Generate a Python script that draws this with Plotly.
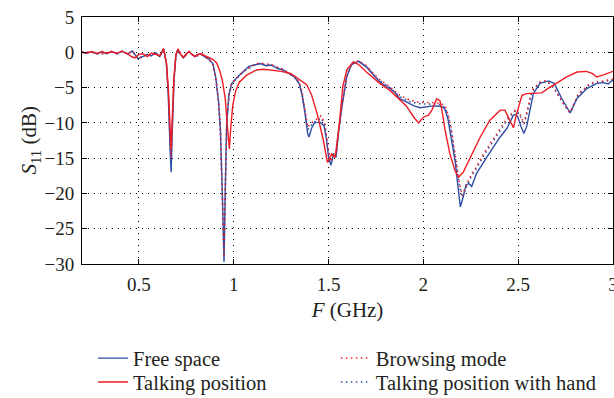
import plotly.graph_objects as go

# ---------------- data ----------------
free_f = [0.20, 0.225, 0.25, 0.28, 0.305, 0.33, 0.355, 0.385, 0.41, 0.44, 0.465, 0.495, 0.52, 0.545,
          0.565, 0.59, 0.61, 0.63, 0.645, 0.655, 0.665, 0.670, 0.675, 0.685, 0.695, 0.706, 0.72,
          0.735, 0.75, 0.765, 0.78, 0.795, 0.81, 0.83, 0.85, 0.87, 0.89, 0.905, 0.92, 0.93, 0.94,
          0.949, 0.955, 0.963, 0.975, 0.99, 1.02, 1.05, 1.08, 1.11, 1.14, 1.17, 1.20, 1.23, 1.26,
          1.29, 1.32, 1.345, 1.36, 1.375, 1.39, 1.397, 1.41, 1.425, 1.455, 1.476, 1.49, 1.50, 1.513,
          1.525, 1.54, 1.552, 1.57, 1.596, 1.62, 1.657, 1.70, 1.73, 1.763, 1.79, 1.824, 1.85, 1.877,
          1.90, 1.93, 1.95, 1.983, 2.02, 2.05, 2.088, 2.105, 2.115, 2.13, 2.14, 2.155, 2.167, 2.185,
          2.195, 2.21, 2.225, 2.24, 2.255, 2.28, 2.308, 2.334, 2.37, 2.405, 2.44, 2.475, 2.49, 2.50,
          2.515, 2.53, 2.545, 2.555, 2.58, 2.615, 2.66, 2.69, 2.73, 2.774, 2.81, 2.862, 2.915, 2.95,
          2.975, 3.0]
free_s = [0.0, -0.15, 0.05, -0.2, 0.05, -0.2, 0.1, -0.2, 0.15, -0.25, 0.2, -0.9, -0.6, -0.3,
          -0.5, -0.1, -0.6, 0.5, -1.5, -6.0, -14.0, -17.0, -12.0, -4.0, -0.5, 0.45, -0.3,
          -0.8, -0.2, 0.1, -0.3, -0.6, -0.3, -0.3, -0.7, -1.0, -1.6, -3.5, -7.0, -11.0, -20.0,
          -29.7, -20.0, -10.0, -6.0, -4.4, -3.5, -2.8, -2.0, -1.8, -1.6, -1.9, -1.8, -2.3, -2.5,
          -3.0, -3.5, -4.4, -6.0, -8.5, -11.5, -12.0, -10.8, -10.0, -9.9, -10.4, -12.5, -14.9, -16.0,
          -14.6, -14.8, -11.5, -7.8, -3.5, -1.8, -1.25, -2.1, -3.0, -4.0, -4.6, -5.1, -5.7, -6.6,
          -6.9, -7.3, -7.6, -7.85, -7.7, -7.6, -7.65, -7.8, -8.2, -9.5, -11.1, -13.5, -15.3, -19.6,
          -21.9, -20.5, -18.8, -18.6, -19.0, -17.2, -16.1, -14.9, -13.4, -12.0, -10.8, -8.9, -8.8, -9.3,
          -10.5, -11.5, -10.5, -9.2, -5.85, -4.4, -4.05, -4.4, -6.55, -8.6, -6.55, -5.15, -4.4, -4.3,
          -4.5, -3.9]

talk_f = [0.20, 0.225, 0.25, 0.28, 0.305, 0.33, 0.355, 0.385, 0.41, 0.44, 0.46, 0.48, 0.50, 0.52,
          0.545, 0.565, 0.59, 0.61, 0.63, 0.645, 0.655, 0.665, 0.670, 0.675, 0.685, 0.695, 0.706,
          0.72, 0.735, 0.75, 0.765, 0.78, 0.795, 0.81, 0.83, 0.85, 0.87, 0.89, 0.91, 0.925, 0.94,
          0.955, 0.965, 0.977, 0.985, 0.995, 1.01, 1.03, 1.07, 1.12, 1.16, 1.20, 1.25, 1.30, 1.345,
          1.385, 1.41, 1.44, 1.473, 1.494, 1.505, 1.517, 1.535, 1.557, 1.575, 1.596, 1.631, 1.657,
          1.70, 1.77, 1.824, 1.877, 1.91, 1.95, 1.974, 2.0, 2.027, 2.045, 2.07, 2.088, 2.10, 2.115,
          2.14, 2.167, 2.185, 2.21, 2.246, 2.30, 2.35, 2.405, 2.43, 2.457, 2.475, 2.49, 2.51, 2.52,
          2.545, 2.58, 2.624, 2.67, 2.71, 2.756, 2.81, 2.86, 2.89, 2.915, 2.95, 3.0]
talk_s = [0.0, -0.1, 0.1, -0.15, 0.1, -0.15, 0.1, -0.15, 0.15, -0.2, -0.6, -0.8, -0.3, -0.2,
          -0.6, -0.1, -0.3, -0.5, 0.5, -1.5, -5.0, -11.0, -13.8, -10.0, -3.5, -0.3, 0.45,
          -0.3, -0.7, -0.2, 0.1, -0.3, -0.6, -0.3, -0.2, -0.5, -0.8, -1.0, -1.5, -2.5, -4.0,
          -6.5, -10.0, -13.7, -10.5, -7.5, -5.5, -4.2, -3.2, -2.5, -2.4, -2.5, -2.7, -3.0, -3.8,
          -4.6, -6.0, -8.7, -12.5, -15.6, -15.0, -14.4, -14.9, -10.1, -4.9, -2.5, -1.35, -1.7,
          -2.8, -4.4, -5.4, -6.8, -7.6, -9.2, -10.0, -9.2, -8.9, -8.2, -6.6, -6.9, -8.5, -11.1,
          -14.4, -16.8, -17.7, -17.0, -14.9, -12.0, -9.65, -8.2, -8.2, -9.65, -10.7, -8.9, -7.0, -6.1,
          -5.85, -5.85, -5.75, -4.9, -4.2, -3.5, -2.8, -2.7, -3.0, -3.5, -3.2, -2.7]

browse_f = [0.20, 0.25, 0.28, 0.33, 0.355, 0.385, 0.41, 0.44, 0.465, 0.495, 0.52, 0.545, 0.565,
            0.59, 0.61, 0.63, 0.645, 0.655, 0.665, 0.670, 0.675, 0.685, 0.695, 0.706, 0.735, 0.765,
            0.795, 0.83, 0.87, 0.89, 0.905, 0.92, 0.93, 0.94, 0.949, 0.955, 0.963, 0.975, 0.99,
            1.05, 1.11, 1.14, 1.20, 1.26, 1.32, 1.345, 1.36, 1.375, 1.39, 1.41, 1.43, 1.46, 1.48,
            1.50, 1.513, 1.525, 1.54, 1.552, 1.57, 1.596, 1.62, 1.66, 1.70, 1.76, 1.82, 1.87, 1.93,
            1.98, 2.03, 2.09, 2.115, 2.13, 2.145, 2.16, 2.175, 2.19, 2.205, 2.228, 2.255, 2.28, 2.317,
            2.35, 2.387, 2.422, 2.457, 2.49, 2.51, 2.53, 2.55, 2.572, 2.615, 2.65, 2.686, 2.74, 2.774,
            2.818, 2.88, 2.95, 3.0]
browse_s = [0.0, 0.05, -0.2, -0.2, 0.1, -0.2, 0.15, -0.25, 0.2, -0.9, -0.6, -0.3, -0.5,
            -0.1, -0.6, 0.5, -1.5, -6.0, -13.0, -15.0, -11.0, -4.0, -0.5, 0.45, -0.8, 0.1,
            -0.6, -0.3, -1.0, -1.6, -3.5, -7.0, -11.0, -20.0, -29.0, -20.0, -10.0, -6.0, -4.3,
            -2.7, -1.7, -1.5, -1.8, -2.4, -3.4, -4.2, -5.5, -8.0, -10.6, -10.0, -9.6, -9.0, -10.0,
            -14.0, -15.5, -14.2, -14.5, -11.3, -7.6, -3.3, -1.6, -1.2, -1.9, -3.7, -4.8, -6.0, -6.8,
            -7.1, -7.1, -7.2, -7.6, -8.8, -10.5, -13.0, -15.5, -18.5, -20.3, -18.7, -17.2, -16.2, -14.4,
            -13.0, -11.5, -10.1, -8.9, -8.0, -8.8, -10.1, -8.0, -5.4, -4.2, -4.0, -4.9, -7.3, -8.5,
            -5.85, -4.4, -4.1, -3.8]

hand_f = [0.20, 0.25, 0.28, 0.33, 0.355, 0.385, 0.41, 0.44, 0.465, 0.495, 0.52, 0.545, 0.565,
          0.59, 0.61, 0.63, 0.645, 0.655, 0.665, 0.670, 0.675, 0.685, 0.695, 0.706, 0.735, 0.765,
          0.795, 0.83, 0.87, 0.89, 0.905, 0.92, 0.93, 0.94, 0.949, 0.955, 0.963, 0.975, 0.99,
          1.05, 1.11, 1.14, 1.20, 1.26, 1.32, 1.345, 1.36, 1.375, 1.39, 1.41, 1.43, 1.46, 1.48,
          1.50, 1.513, 1.525, 1.54, 1.552, 1.57, 1.596, 1.62, 1.66, 1.70, 1.76, 1.82, 1.87, 1.93,
          1.98, 2.03, 2.09, 2.115, 2.13, 2.145, 2.16, 2.175, 2.19, 2.205, 2.228, 2.255, 2.28, 2.317,
          2.35, 2.387, 2.422, 2.457, 2.49, 2.51, 2.53, 2.55, 2.572, 2.615, 2.65, 2.686, 2.74, 2.774,
          2.818, 2.88, 2.95, 3.0]
hand_s = [0.0, 0.0, -0.2, -0.15, 0.1, -0.2, 0.1, -0.25, 0.15, -0.9, -0.6, -0.35, -0.5,
          -0.15, -0.6, 0.45, -1.5, -6.0, -13.5, -16.0, -11.5, -4.0, -0.5, 0.4, -0.8, 0.05,
          -0.6, -0.35, -1.0, -1.7, -3.6, -7.2, -11.5, -20.5, -29.3, -20.5, -10.2, -6.0, -4.4,
          -2.8, -1.8, -1.6, -1.9, -2.5, -3.5, -4.4, -5.8, -8.2, -11.0, -10.3, -9.8, -9.3, -10.3,
          -14.3, -15.8, -14.4, -14.7, -11.5, -7.7, -3.4, -1.7, -1.3, -2.0, -3.8, -4.9, -6.2, -7.0,
          -7.3, -7.3, -7.4, -7.8, -9.0, -10.8, -13.3, -15.8, -18.8, -20.6, -19.0, -17.5, -16.5, -14.7,
          -13.3, -11.8, -10.4, -9.1, -8.2, -9.0, -10.3, -8.3, -5.6, -4.3, -4.1, -5.0, -7.4, -8.6,
          -6.0, -4.5, -4.2, -3.9]

x_tickvals = [0.5, 1.0, 1.5, 2.0, 2.5, 3.0]
x_ticktext = ["0.5", "1", "1.5", "2", "2.5", "3"]
y_tickvals = [-30, -25, -20, -15, -10, -5, 0, 5]
y_ticktext = ["\u221230", "\u221225", "\u221220", "\u221215", "\u221210", "\u22125", "0", "5"]

BLUE = "#2F4FA6"
RED = "#EE1C25"
FONT = "Liberation Serif, Times New Roman, serif"
TXT = "#231F20"

fig = go.Figure()
fig.add_trace(go.Scatter(x=free_f, y=free_s, mode="lines", name="Free space",
                         line=dict(color=BLUE, width=1.4), legend="legend"))
fig.add_trace(go.Scatter(x=hand_f, y=hand_s, mode="lines", name="Talking position with hand",
                         line=dict(color=BLUE, width=1.5, dash="1.5px,3.5px"), legend="legend4"))
fig.add_trace(go.Scatter(x=browse_f, y=browse_s, mode="lines", name="Browsing mode",
                         line=dict(color=RED, width=1.5, dash="1.5px,3.5px"), legend="legend2"))
fig.add_trace(go.Scatter(x=talk_f, y=talk_s, mode="lines", name="Talking position",
                         line=dict(color=RED, width=1.4), legend="legend3"))

axis_common = dict(showline=True, linecolor="black", linewidth=1, mirror="allticks",
                   ticks="inside", ticklen=5, tickcolor="black", showgrid=True,
                   gridcolor="black", gridwidth=1, griddash="1px,5px", zeroline=False,
                   ticklabeloverflow="allow", ticklabelstandoff=3,
                   tickfont=dict(family=FONT, size=19, color=TXT))

fig.update_xaxes(range=[0.2, 3.0], tickvals=x_tickvals, ticktext=x_ticktext,
                 title=dict(text="<i>F</i> (GHz)", font=dict(family=FONT, size=21, color=TXT),
                            standoff=8),
                 **axis_common)
fig.update_yaxes(range=[-30, 5], tickvals=y_tickvals, ticktext=y_ticktext, **axis_common)

# y-axis title as a rotated text beside the axis
fig.add_annotation(text="<i>S</i><sub>11</sub> (dB)", xref="paper", yref="paper",
                   x=-0.098, y=0.5, xanchor="center", yanchor="middle", textangle=-90,
                   showarrow=False, font=dict(family=FONT, size=21, color=TXT))


def leg(x, y):
    return dict(xref="container", yref="container", x=x, y=y, xanchor="left", yanchor="top",
                font=dict(family=FONT, size=20.5, color=TXT), bgcolor="rgba(0,0,0,0)",
                borderwidth=0)


fig.update_layout(
    width=614, height=398,
    margin=dict(l=82, r=1, t=17, b=134, autoexpand=False),
    paper_bgcolor="white", plot_bgcolor="white",
    showlegend=True,
    legend=leg(0.1515, 0.150),
    legend2=leg(0.547, 0.150),
    legend3=leg(0.1515, 0.090),
    legend4=leg(0.547, 0.090),
    font=dict(family=FONT, color=TXT),
)

fig.write_html("out.html")
